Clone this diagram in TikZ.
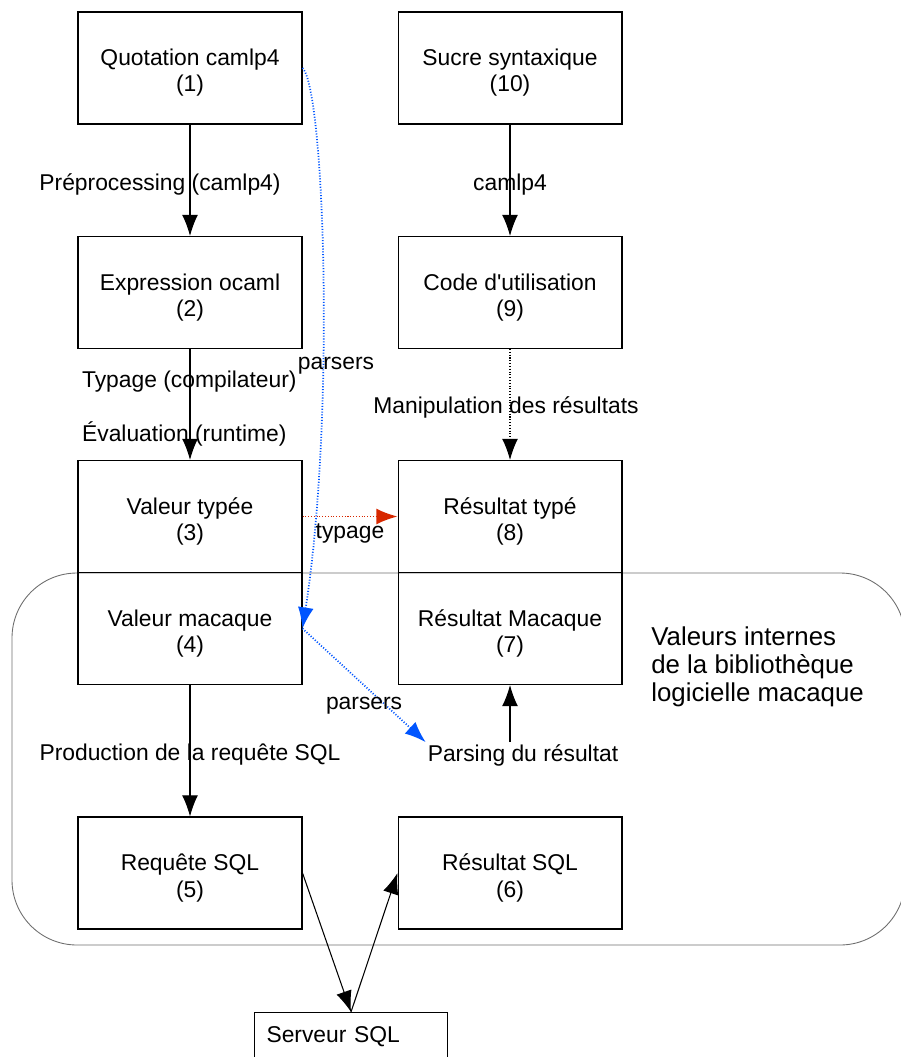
\documentclass[tikz,border=0pt]{standalone}
\usepackage{fontspec}
\setmainfont{Liberation Sans}
\usetikzlibrary{arrows.meta}
\definecolor{parsblue}{RGB}{0,85,255}
\definecolor{typred}{RGB}{215,40,0}
\definecolor{zonegray}{RGB}{110,110,110}

\begin{document}
\begin{tikzpicture}[x=0.02cm,y=-0.02cm,
  box/.style={draw,line width=0.6pt,minimum width=4.48cm,minimum height=2.24cm,
    align=center,inner sep=0pt,text height=30pt,font=\fontsize{13}{14.8}\selectfont},
  lbl/.style={inner sep=1pt,font=\fontsize{13}{15}\selectfont},
  arr/.style={-{Latex[length=12pt,width=9pt]},line width=0.6pt},
  parsarr/.style={arr,parsblue,densely dotted,line width=1pt},
  typarr/.style={arr,typred,densely dotted,line width=0.9pt}]
\useasboundingbox (0,0) rectangle (900,1057);
% zone des valeurs internes
\draw[zonegray,line width=0.5pt,rounded corners=1.3cm] (12,573) rectangle (905,945);
\node[anchor=west,align=left,inner sep=0pt,font=\fontsize{14.7}{15.9}\selectfont] (lib) at (651,667)
  {Valeurs internes\\de la bibliothèque\\logicielle macaque};
% colonne gauche
\node[box] (quot) at (190,68) {Quotation camlp4\\(1)};
\node[box] (expr) at (190,292.5) {Expression ocaml\\(2)};
\node[box] (valt) at (190,516.5) {Valeur typée\\(3)};
\node[box] (valm) at (190,628.5) {Valeur macaque\\(4)};
\node[box] (req) at (190,873) {Requête SQL\\(5)};
% colonne droite
\node[box] (sucre) at (510,68) {Sucre syntaxique\\(10)};
\node[box] (code) at (510,292.5) {Code d\textquotesingle utilisation\\(9)};
\node[box] (rest) at (510,516.5) {Résultat typé\\(8)};
\node[box] (resm) at (510,628.5) {Résultat Macaque\\(7)};
\node[box] (ressql) at (510,873) {Résultat SQL\\(6)};
\node[draw,line width=0.6pt,anchor=north west,minimum width=3.86cm,text width=3.38cm,
  align=left,inner xsep=0.24cm,inner ysep=0.28cm,text depth=1cm,
  font=\fontsize{13}{15}\selectfont] (srv) at (254,1012) {Serveur SQL};
\node[lbl] (parse) at (523,755) {Parsing du résultat};
% connecteurs
\draw[arr] (quot) -- node[lbl,xshift=-0.6cm,yshift=-0.08cm] (prep) {Préprocessing (camlp4)} (expr);
\draw[arr] (expr) -- (valt);
\node[lbl,anchor=west] (typc) at (80,382) {Typage (compilateur)};
\node[lbl,anchor=west] (evalr) at (80,434) {Évaluation (runtime)};
\draw[arr] (sucre) -- node[lbl,yshift=-0.08cm] (cml) {camlp4} (code);
\draw[arr,densely dotted] (code) -- node[lbl,xshift=-0.08cm,yshift=-0.06cm] (manip) {Manipulation des résultats} (rest);
\draw[typarr] (valt) -- node[lbl,yshift=-0.33cm,text=black] (typg) {typage} (rest);
\draw[parsarr] (quot.east) .. controls (325,90) and (335,420) .. (valm.east);
\node[lbl] (pars1) at (336,366) {parsers};
\draw[parsarr] (valm.east) -- node[lbl,yshift=-0.4cm,text=black] (pars2) {parsers} (parse.north west);
\draw[arr] (valm) -- node[lbl,yshift=-0.08cm] (prod) {Production de la requête SQL} (req);
\draw[arr] (parse.north -| resm.south) -- (resm.south);
\draw[arr] (req.east) -- (srv.north);
\draw[arr] (srv.north) -- (ressql.west);
\end{tikzpicture}
\end{document}
